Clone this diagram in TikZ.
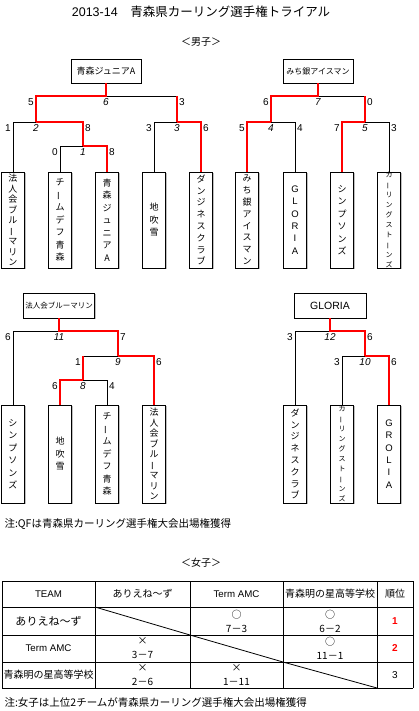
\documentclass[tikz,border=0pt]{standalone}
\usepackage{fontspec}
\setmainfont{Noto Sans CJK JP}
\newfontfamily\numfont{Liberation Sans}
\usetikzlibrary{shadows}
\newcommand\vb{\rotatebox[origin=c]{90}{ー}}
\newcommand\scores[6]{%
  \path (#2 |- #1) ++(-2,6.5) node[score,anchor=east] (#1l) {#4}
        (#3 |- #1) ++(2,6.5) node[score,anchor=west] (#1r) {#6}
        (#1) ++(0,6.5) node[gno] (#1n) {#5};}
\begin{document}
\begin{tikzpicture}[
  x=1pt,y=-1pt,
  champ/.style={rectangle,draw,fill=white,minimum width=70pt,minimum height=24pt,inner sep=0pt,drop shadow={shadow xshift=1pt,shadow yshift=-1pt,fill=black!50}},
  team/.style={rectangle,draw,fill=white,minimum width=23pt,minimum height=96pt,inner sep=0pt,align=center,font=\fontsize{9}{12.5}\selectfont,drop shadow={shadow xshift=1pt,shadow yshift=-1pt,fill=black!50}},
  eightname/.style={font=\fontsize{9}{11.8}\selectfont},
  ninename/.style={font=\fontsize{9}{10.5}\selectfont},
  smallname/.style={font=\fontsize{7}{10}\selectfont},
  latinname/.style={font=\numfont\fontsize{9.5}{12.4}\selectfont},
  win/.style={draw=red,line width=1.6pt},
  lose/.style={draw=black,line width=0.8pt},
  score/.style={inner sep=0pt,font=\numfont\fontsize{10}{10}\selectfont},
  gno/.style={inner sep=0pt,font=\numfont\itshape\fontsize{10}{10}\selectfont},
  cell/.style={inner sep=0pt,align=center,font=\fontsize{10}{14}\selectfont},
  latincell/.style={cell,font=\numfont\fontsize{9.7}{14}\selectfont},
  rank/.style={inner sep=0pt,font=\numfont\fontsize{10}{10}\selectfont}
  ]
  \useasboundingbox (0,0) rectangle (418,711);
  \node[font=\fontsize{12.5}{14}\selectfont] (title) at (201,12) {{\numfont 2013-14}\quad 青森県カーリング選手権トライアル};
  \node[font=\fontsize{10}{12}\selectfont] (men) at (201,42) {＜男子＞};

  \node[champ,font=\fontsize{9}{10}\selectfont] (c1) at (106,71) {青森ジュニアA};
  \node[team,ninename] (t1) at (13,220) {法\\人\\会\\ブ\\ル\\\vb\\マ\\リ\\ン};
  \node[team] (t2) at (60,220) {チ\\\vb\\ム\\デ\\フ\\青\\森};
  \node[team] (t3) at (107,220) {青\\森\\ジ\\ュ\\ニ\\ア\\A};
  \node[team] (t4) at (154,220) {地\\吹\\雪};
  \node[team,eightname] (t5) at (201,220) {ダ\\ン\\ジ\\ネ\\ス\\ク\\ラ\\ブ};
  \coordinate (g1) at (83,146);
  \coordinate (g2) at (36,122);
  \coordinate (g3) at (177,122);
  \coordinate (g6) at (106,96);
  \draw[lose] (t2.north) |- (g1);
  \draw[lose] (t1.north) |- (g2);
  \draw[lose] (t4.north) |- (g3);
  \draw[lose] (g3 |- g6) -- (g6);
  \draw[win] (t3.north) |- (g1);
  \draw[win] (g1) |- (g2);
  \draw[win] (t5.north) |- (g3);
  \draw[win] (g3) -- (g3 |- g6);
  \draw[win] (g2) |- (g6) -- (c1.south);
  \scores{g1}{t2.north}{t3.north}{0}{1}{8}
  \scores{g2}{t1.north}{g1}{1}{2}{8}
  \scores{g3}{t4.north}{t5.north}{3}{3}{6}
  \scores{g6}{g2}{g3}{5}{6}{3}

  \node[champ,font=\fontsize{8}{10}\selectfont] (c2) at (318,71) {みち銀アイスマン};
  \node[team,eightname] (t6) at (247,220) {み\\ち\\銀\\ア\\イ\\ス\\マ\\ン};
  \node[team,latinname] (t7) at (295,220) {G\\L\\O\\R\\I\\A};
  \node[team] (t8) at (342,220) {シ\\ン\\プ\\ソ\\ン\\ズ};
  \node[team,smallname] (t9) at (389,220) {カ\\\vb\\リ\\ン\\グ\\ス\\ト\\\vb\\ン\\ズ};
  \coordinate (g4) at (271,122);
  \coordinate (g5) at (365,122);
  \coordinate (g7) at (318,96);
  \draw[lose] (t7.north) |- (g4);
  \draw[lose] (t9.north) |- (g5);
  \draw[lose] (g5 |- g7) -- (g7);
  \draw[win] (t6.north) |- (g4);
  \draw[win] (t8.north) |- (g5);
  \draw[win] (g5) -- (g5 |- g7);
  \draw[win] (g4) |- (g7) -- (c2.south);
  \scores{g4}{t6.north}{t7.north}{5}{4}{4}
  \scores{g5}{t8.north}{t9.north}{7}{5}{3}
  \scores{g7}{g4}{g5}{6}{7}{0}

  \node[champ,font=\fontsize{7.5}{10}\selectfont,minimum width=71pt,minimum height=25pt] (c3) at (59,305.5) {法人会ブルーマリン};
  \node[team,minimum height=98pt] (t10) at (13,454) {シ\\ン\\プ\\ソ\\ン\\ズ};
  \node[team,minimum height=98pt] (t11) at (60,454) {地\\吹\\雪};
  \node[team,minimum height=98pt] (t12) at (107,454) {チ\\\vb\\ム\\デ\\フ\\青\\森};
  \node[team,ninename,minimum height=98pt] (t13) at (154,454) {法\\人\\会\\ブ\\ル\\\vb\\マ\\リ\\ン};
  \coordinate (g8) at (83,380);
  \coordinate (g9) at (118,356);
  \coordinate (g11) at (59,331);
  \draw[lose] (t12.north) |- (g8);
  \draw[lose] (g8 |- g9) -- (g9);
  \draw[lose] (t10.north) |- (g11);
  \draw[win] (t11.north) |- (g8);
  \draw[win] (g8) -- (g8 |- g9);
  \draw[win] (t13.north) |- (g9);
  \draw[win] (g9) |- (g11) -- (c3.south);
  \scores{g8}{t11.north}{t12.north}{6}{8}{4}
  \scores{g9}{g8}{t13.north}{1}{9}{6}
  \scores{g11}{t10.north}{g9}{6}{11}{7}

  \node[champ,font=\numfont\fontsize{10.5}{12}\selectfont,minimum width=72pt,minimum height=25pt] (c4) at (330,305.5) {GLORIA};
  \node[team,eightname,minimum height=98pt] (t14) at (295,454) {ダ\\ン\\ジ\\ネ\\ス\\ク\\ラ\\ブ};
  \node[team,smallname,minimum height=98pt] (t15) at (342,454) {カ\\\vb\\リ\\ン\\グ\\ス\\ト\\\vb\\ン\\ズ};
  \node[team,latinname,minimum height=98pt] (t16) at (389,454) {G\\R\\O\\L\\I\\A};
  \coordinate (g10) at (365,356);
  \coordinate (g12) at (330,331);
  \draw[lose] (t15.north) |- (g10);
  \draw[lose] (t14.north) |- (g12);
  \draw[win] (t16.north) |- (g10);
  \draw[win] (g10) |- (g12) -- (c4.south);
  \scores{g10}{t15.north}{t16.north}{3}{10}{6}
  \scores{g12}{t14.north}{g10}{3}{12}{6}

  \node[anchor=west,font=\fontsize{10.5}{12}\selectfont] (note1) at (1,524) {注:QFは青森県カーリング選手権大会出場権獲得};
  \node[font=\fontsize{10}{12}\selectfont] (women) at (201,563) {＜女子＞};

  \foreach \x in {2,95,190,283,377,413} \draw[lose] (\x,581) -- (\x,688);
  \foreach \y in {581,607,635,662,688} \draw[lose] (2,\y) -- (413,\y);
  \draw[lose] (95,607) -- (190,635);
  \draw[lose] (190,635) -- (283,662);
  \draw[lose] (283,662) -- (377,688);
  \node[latincell] (h0) at (48.5,594) {TEAM};
  \node[cell] (h1) at (142.5,594) {ありえね～ず};
  \node[latincell] (h2) at (236.5,594) {Term AMC};
  \node[cell] (h3) at (330,594) {青森明の星高等学校};
  \node[cell] (h4) at (395,594) {順位};
  \node[cell,font=\fontsize{11}{14}\selectfont] (r1) at (48.5,621) {ありえね～ず};
  \node[cell] (r1c2) at (236.5,621) {○\\7－3};
  \node[cell] (r1c3) at (330,621) {○\\6－2};
  \node[rank,red,font=\numfont\bfseries\fontsize{10}{10}\selectfont] (r1c4) at (395,621) {1};
  \node[latincell] (r2) at (48.5,648.5) {Term AMC};
  \node[cell] (r2c1) at (142.5,648.5) {×\\3－7};
  \node[cell] (r2c3) at (330,648.5) {○\\11－1};
  \node[rank,red,font=\numfont\bfseries\fontsize{10}{10}\selectfont] (r2c4) at (395,648.5) {2};
  \node[cell] (r3) at (48.5,675) {青森明の星高等学校};
  \node[cell] (r3c1) at (142.5,675) {×\\2－6};
  \node[cell] (r3c2) at (236.5,675) {×\\1－11};
  \node[rank] (r3c4) at (395,675) {3};
  \node[anchor=west,font=\fontsize{10.5}{12}\selectfont] (note2) at (1,702) {注:女子は上位2チームが青森県カーリング選手権大会出場権獲得};
\end{tikzpicture}
\end{document}
